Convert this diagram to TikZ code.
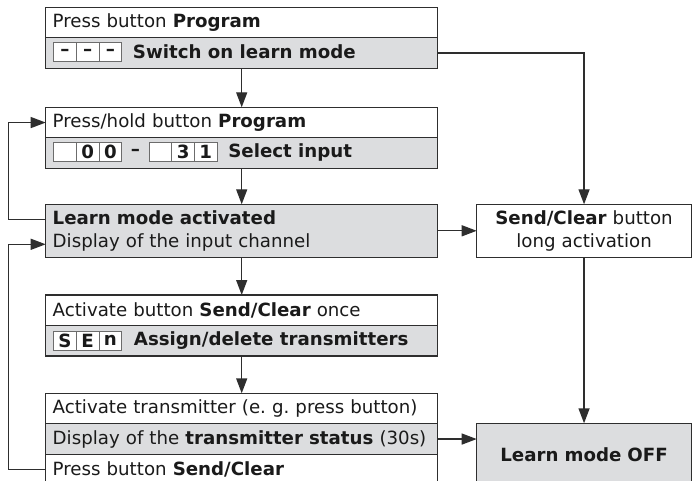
\documentclass[tikz,border=0pt]{standalone}
\usepackage{fontspec}
\setmainfont{DejaVu Sans}
\usetikzlibrary{arrows.meta,positioning}

\definecolor{boxgray}{HTML}{DCDDDF}
\definecolor{edge}{HTML}{2E2E2E}
\definecolor{ink}{HTML}{1A1A1A}

\tikzset{
    row/.style={draw=edge, line width=1.2bp, fill=white, text=ink, minimum height=30.5bp,
        text width=378bp, inner xsep=7bp, inner ysep=0pt, outer sep=0pt, align=left},
    grayrow/.style={row, fill=boxgray},
    cell/.style={draw=gray!85!black, line width=0.8bp, fill=white, text=ink, minimum width=22.7bp,
        minimum height=19.4bp, inner sep=0pt, outer sep=0pt, font=\boxfont\bfseries},
    gap/.style={minimum width=27.3bp, minimum height=19.4bp, inner sep=0pt, outer sep=0pt,
        text=ink, font=\boxfont\bfseries},
    rowtext/.style={inner sep=0pt, text=ink, font=\boxfont\bfseries},
    flow/.style={draw=edge, line width=1.4bp, -{Triangle[length=15bp,width=11bp]}}
}
\newcommand{\boxfont}{\fontsize{18.2bp}{23bp}\selectfont\frenchspacing}

\begin{document}
\begin{tikzpicture}[x=1bp, y=-1bp, font=\boxfont]
    \useasboundingbox (0,0) rectangle (692,481);

    \node[row, anchor=north west] (b1a) at (45.7,7.3) {Press button \textbf{Program}};
    \node[grayrow, below=0pt of b1a] (b1b) {};
    \node[cell] (c11) at (65,52) {--};
    \node[cell, right=0pt of c11] (c12) {--};
    \node[cell, right=0pt of c12] (c13) {--};
    \node[rowtext, right=11bp of c13] {Switch on learn mode};

    \node[row, anchor=north west] (b2a) at (45.7,107.3) {Press/hold button \textbf{Program}};
    \node[grayrow, below=0pt of b2a] (b2b) {};
    \node[cell] (c21) at (65,152) {};
    \node[cell, right=0pt of c21] (c22) {0};
    \node[cell, right=0pt of c22] (c23) {0};
    \node[gap, right=0pt of c23] (dash2) {--};
    \node[cell, right=0pt of dash2] (c24) {};
    \node[cell, right=0pt of c24] (c25) {3};
    \node[cell, right=0pt of c25] (c26) {1};
    \node[rowtext, right=11bp of c26] {Select input};

    \node[grayrow, anchor=north west, minimum height=53bp] (learn) at (45.7,204.3)
        {\textbf{Learn mode activated}\\Display of the input channel};

    \node[row, anchor=north west] (b3a) at (45.7,295) {Activate button \textbf{Send/Clear} once};
    \node[grayrow, below=0pt of b3a] (b3b) {};
    \node[cell] (c31) at (65,340.8) {S};
    \node[cell, right=0pt of c31] (c32) {E};
    \node[cell, right=0pt of c32] (c33) {n};
    \node[rowtext, right=12bp of c33] {Assign/delete transmitters};

    \node[row, anchor=north west] (b4a) at (45.7,393.3) {Activate transmitter (e. g. press button)};
    \node[grayrow, below=0pt of b4a] (b4b) {Display of the \textbf{transmitter status} (30s)};
    \node[row, below=0pt of b4b] (b4c) {Press button \textbf{Send/Clear}};

    \node[row, anchor=north west, text width=200.7bp, align=center, minimum height=53bp] (send)
        at (476.7,204.3) {\textbf{Send/Clear} button\\long activation};
    \node[grayrow, anchor=north west, text width=200.7bp, align=center, minimum height=63.4bp,
        font=\boxfont\bfseries] (off) at (476.7,423.3) {Learn mode OFF};

    \draw[flow] (b1b) -- (b2a);
    \draw[flow] (b2b) -- (learn);
    \draw[flow] (learn) -- (b3a);
    \draw[flow] (b3b) -- (b4a);

    \draw[flow] ([yshift=11.5bp]learn.west) -- ++(-37.4bp,0) |- (b2a.west);
    \draw[flow] (b4c.west) -- ++(-37.4bp,0) |- ([yshift=-13.5bp]learn.west);

    \draw[flow] (b1b.east) -| (send.north);
    \draw[flow] (learn.east) -- (send.west);
    \draw[flow] (send.south) -- (off.north);
    \draw[flow] (b4b.east) -- (b4b.east -| off.west);
\end{tikzpicture}
\end{document}
